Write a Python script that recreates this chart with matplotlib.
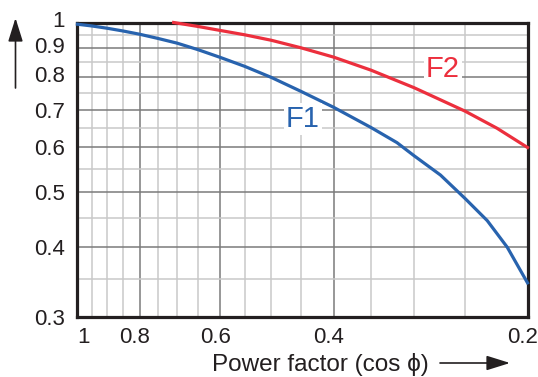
import numpy as np
import matplotlib
matplotlib.use('Agg')
import matplotlib.pyplot as plt
from matplotlib.ticker import FixedLocator, NullFormatter
from matplotlib.transforms import ScaledTranslation

plt.rcParams['font.family'] = ['Liberation Sans', 'DejaVu Sans']

# data
pf_f1 = [1.0, 0.95, 0.9, 0.85, 0.8, 0.75, 0.7, 0.65, 0.6, 0.55, 0.5, 0.45,
         0.4, 0.35, 0.319, 0.3, 0.273, 0.25, 0.231, 0.215, 0.2]
f1 = [0.993, 0.986, 0.977, 0.966, 0.953, 0.937, 0.919, 0.895, 0.867, 0.836, 0.799,
      0.755, 0.707, 0.651, 0.612, 0.580, 0.536, 0.487, 0.445, 0.399, 0.345]

pf_f2 = [0.709, 0.65, 0.6, 0.55, 0.5, 0.45, 0.4, 0.35, 0.3, 0.25, 0.223, 0.2]
f2 = [1.0, 0.984, 0.968, 0.951, 0.930, 0.902, 0.868, 0.823, 0.766, 0.696, 0.649, 0.6]

x_major = [1.0, 0.8, 0.6, 0.4, 0.2]
x_labels = ['1', '0.8', '0.6', '0.4', '0.2']
x_minor = [0.95, 0.9, 0.85, 0.75, 0.7, 0.65, 0.55, 0.5, 0.45, 0.35, 0.3, 0.25]
y_major = [0.3, 0.4, 0.5, 0.6, 0.7, 0.8, 0.9, 1.0]
y_labels = ['0.3', '0.4', '0.5', '0.6', '0.7', '0.8', '0.9', '1']
y_minor = [0.35, 0.45, 0.55, 0.65, 0.75, 0.85, 0.95]

BLUE = '#2863ae'
RED = '#ec2f3d'
INK = '#231f20'

fig = plt.figure(figsize=(5.38, 3.77), dpi=100)
ax = fig.add_axes([0.144, 0.159, 0.8365, 0.7813])

ax.set_xscale('log')
ax.set_yscale('log')
ax.set_xlim(1.0, 0.2)
ax.set_ylim(0.3, 1.0)

ax.xaxis.set_major_locator(FixedLocator(x_major))
ax.xaxis.set_minor_locator(FixedLocator(x_minor))
ax.yaxis.set_major_locator(FixedLocator(y_major))
ax.yaxis.set_minor_locator(FixedLocator(y_minor))
ax.set_xticklabels(x_labels)
ax.set_yticklabels(y_labels)
ax.xaxis.set_minor_formatter(NullFormatter())
ax.yaxis.set_minor_formatter(NullFormatter())

ax.tick_params(which='both', length=0, labelsize=16, colors=INK)
ax.tick_params(axis='x', pad=7)
ax.tick_params(axis='y', pad=9)

ax.set_axisbelow(True)
ax.grid(which='major', color='#7a7a7a', linewidth=1.1)
ax.grid(which='minor', color='#c9c9c9', linewidth=1.1)

for s in ax.spines.values():
    s.set_linewidth(2.3)
    s.set_color(INK)

ax.plot(pf_f1, f1, color=BLUE, linewidth=2.3, clip_on=False, zorder=3)
ax.plot(pf_f2, f2, color=RED, linewidth=2.3, clip_on=False, zorder=3)

# small shifts of the tick labels as in the original
for lab in ax.get_xticklabels():
    if lab.get_text() == '1':
        lab.set_horizontalalignment('left')
    else:
        lab.set_transform(lab.get_transform() + ScaledTranslation(-5 / 100, 0, fig.dpi_scale_trans))
y_shift = {'1': 4, '0.9': 3, '0.8': 3}
for lab in ax.get_yticklabels():
    dy = y_shift.get(lab.get_text(), 0)
    if dy:
        lab.set_transform(lab.get_transform() + ScaledTranslation(0, dy / 100, fig.dpi_scale_trans))

box = dict(facecolor='white', edgecolor='none', pad=1.5)
ax.text(0.447, 0.674, 'F1', color=BLUE, fontsize=21, ha='center', va='center', bbox=box, zorder=4)
ax.text(0.271, 0.827, 'F2', color=RED, fontsize=21, ha='center', va='center', bbox=box, zorder=4)

fig.text(320 / 538, 1 - 364 / 377, 'Power factor (cos \u03d5)', fontsize=17.5, color=INK,
         ha='center', va='center')

arrow = dict(arrowstyle='-|>,head_length=0.8,head_width=0.25', color=INK,
             linewidth=1.2, shrinkA=0, shrinkB=0, mutation_scale=18)
ax.annotate('', xy=(15.5, 377 - 18), xytext=(15.5, 377 - 88),
            xycoords='figure pixels', textcoords='figure pixels', arrowprops=arrow)
ax.annotate('', xy=(510, 377 - 363), xytext=(440, 377 - 363),
            xycoords='figure pixels', textcoords='figure pixels', arrowprops=arrow)

fig.savefig('out.png', dpi=100)
